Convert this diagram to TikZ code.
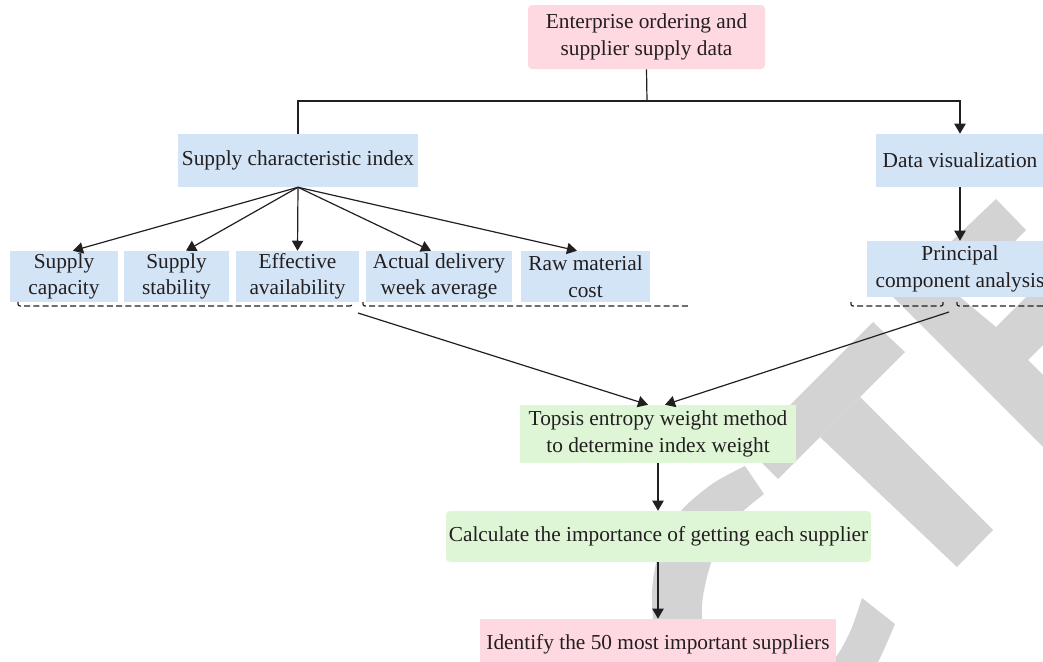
\documentclass[tikz,border=0pt]{standalone}
\usepackage{fontspec}
\setmainfont{Liberation Serif}
\usetikzlibrary{arrows.meta,calc}
\definecolor{pinkbox}{RGB}{255,217,225}
\definecolor{bluebox}{RGB}{210,228,245}
\definecolor{greenbox}{RGB}{222,245,214}
\definecolor{wm}{RGB}{211,211,211}
\definecolor{ink}{RGB}{35,31,32}
\newdimen\pxu \pxu=0.75pt
\tikzset{
  box/.style={inner sep=0pt, align=center, text=ink},
  pinkb/.style={box, fill=pinkbox},
  blueb/.style={box, fill=bluebox},
  greenb/.style={box, fill=greenbox},
  arr/.style={draw=ink, line width=0.9pt, -{Triangle[length=7.5pt,width=8.5pt]}},
  plain/.style={draw=ink, line width=0.9pt},
  bracket/.style={draw=ink, line width=0.9pt, dash pattern=on 4.5pt off 2.4pt}
}
\begin{document}
\begin{tikzpicture}[x=0.75pt,y=-0.75pt,font=\fontsize{16}{19.8}\selectfont]
\useasboundingbox (0,0) rectangle (1043,661);
\begin{scope}
\clip (0,0) rectangle (1043,661);
% watermark
\fill[wm] (873,322) -- (905,352) -- (778,479) -- (747,448) -- cycle;
\fill[wm] (860,397) -- (993,530) -- (957,567) -- (820,437) -- cycle;
\fill[wm] (996,199) -- (1026,230) -- (960,297) -- (996,327) -- (1080,243) -- (1112,276) -- (1028,360) -- (1200,532) -- (1150,554) -- (893,297) -- cycle;
\fill[wm] plot[smooth] coordinates {(745,466) (712,484) (680,512) (660,548) (652,592) (656,640) (672,690) (710,728) (760,742) (815,730) (855,700) (878,662) (895,624)}
  -- plot[smooth] coordinates {(862,598) (850,632) (832,662) (800,688) (760,696) (725,682) (706,650) (702,605) (712,560) (732,522) (764,494)} -- cycle;

% nodes
\node[pinkb, rounded corners=3pt, minimum width=237\pxu, minimum height=64\pxu] (top) at (646.5,37) {Enterprise ordering and\\supplier supply data};
\node[blueb, minimum width=240\pxu, minimum height=53\pxu] (sci) at (298,160.5) {Supply characteristic index};
\node[blueb, minimum width=168\pxu, minimum height=53\pxu] (dv) at (960,160.5) {Data visualization};
\node[blueb, minimum width=186\pxu, minimum height=56\pxu] (pca) at (960,269) {Principal\\component analysis};
\node[blueb, minimum width=108\pxu, minimum height=51\pxu] (s1) at (64,276.5) {Supply\\capacity};
\node[blueb, minimum width=105\pxu, minimum height=51\pxu] (s2) at (176.5,276.5) {Supply\\stability};
\node[blueb, minimum width=123\pxu, minimum height=51\pxu] (s3) at (297.5,276.5) {Effective\\availability};
\node[blueb, minimum width=146\pxu, minimum height=51\pxu] (s4) at (439,276.5) {Actual delivery\\week average};
\node[blueb, minimum width=129\pxu, minimum height=51\pxu] (s5) at (585.5,276.5) {Raw material\\cost};
\node[greenb, minimum width=276\pxu, minimum height=58\pxu] (tp) at (658,434) {Topsis entropy weight method\\to determine index weight};
\node[greenb, rounded corners=3pt, minimum width=425\pxu, minimum height=51\pxu] (calc) at (658.5,536.5) {Calculate the importance of getting each supplier};
\node[pinkb, minimum width=356\pxu, minimum height=50\pxu] (ident) at (658,644) {Identify the 50 most important suppliers};

% top connector
\coordinate (j) at (647,101);
\draw[plain] (top.south) -- (j);
\draw[plain] (sci.north) |- (j);
\draw[arr] (j) -| (dv.north);
\draw[arr] (dv.south) -- (pca.north);

% fan-out
\draw[arr] (sci.south) -- ([xshift=9\pxu]s1.north);
\draw[arr] (sci.south) -- ([xshift=9.5\pxu]s2.north);
\draw[arr] (sci.south) -- (s3.north);
\draw[arr] (sci.south) -- ([xshift=-8\pxu]s4.north);
\draw[arr] (sci.south) -- ([xshift=-8.5\pxu]s5.north);

% brackets
\draw[bracket] (18,302) .. controls (18,306) .. (23,306) -- (347,306) .. controls (352,306) .. (352,302);
\draw[bracket] (363,302) .. controls (363,306) .. (368,306) -- (690,306);
\draw[bracket] (851,302) .. controls (851,306) .. (856,306) -- (938,306) .. controls (943,306) .. (943,302);
\draw[bracket] (957,302) .. controls (957,306) .. (962,306) -- (1050,306);
\coordinate (g1) at (358,313);
\coordinate (g2) at (949,312);

\draw[arr] (g1) -- ([xshift=-10\pxu]tp.north);
\draw[arr] (g2) -- ([xshift=7\pxu]tp.north);
\draw[arr] (tp.south) -- (calc.north -| tp.south);
\draw[arr] (calc.south -| tp.south) -- (ident.north -| tp.south);
\end{scope}
\end{tikzpicture}
\end{document}
